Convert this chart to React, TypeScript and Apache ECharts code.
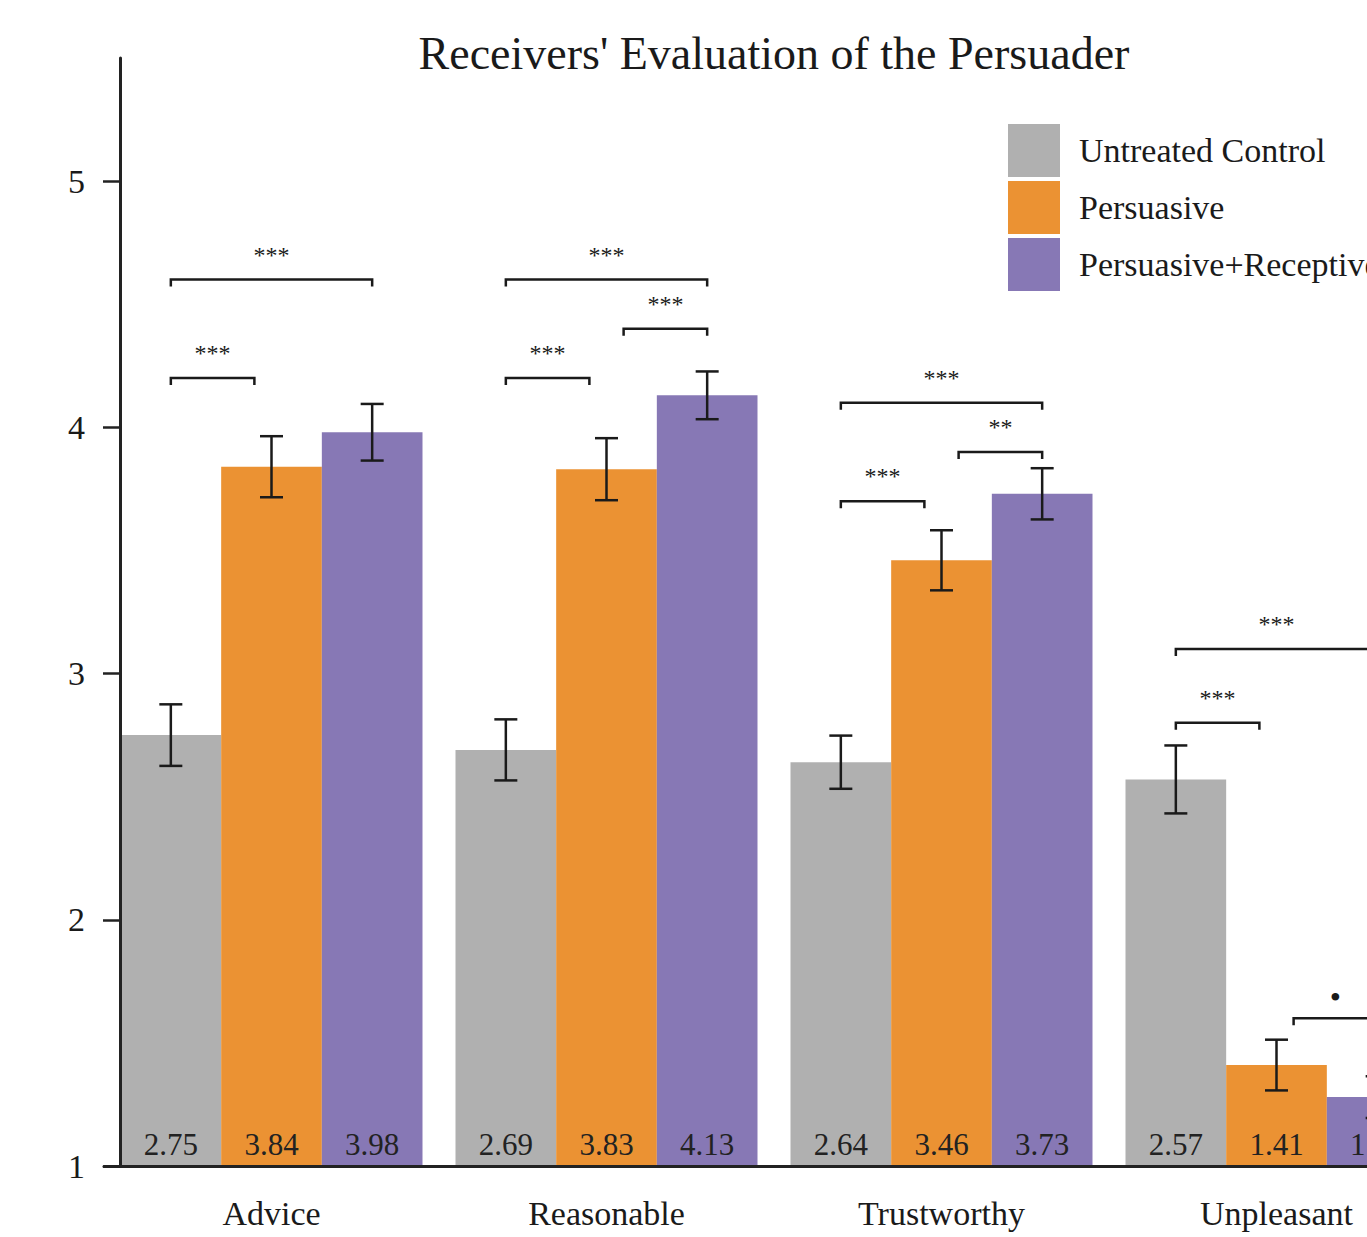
import React, { useEffect, useRef } from "react";
import * as echarts from "echarts";

// Category and group definitions
const categories = ["Advice", "Reasonable", "Trustworthy", "Unpleasant"];
const groupNames = ["Untreated Control", "Persuasive", "Persuasive+Receptive"];
const groupColors = ["#b0b0b0", "#eb9233", "#8778b5"];

// Mean ratings per group (one value per category)
const controlMeans = [2.75, 2.69, 2.64, 2.57];
const persuasiveMeans = [3.84, 3.83, 3.46, 1.41];
const receptiveMeans = [3.98, 4.13, 3.73, 1.28];

// Standard errors per group
const controlSE = [0.125, 0.124, 0.108, 0.138];
const persuasiveSE = [0.124, 0.126, 0.122, 0.103];
const receptiveSE = [0.115, 0.097, 0.104, 0.085];

// Significance brackets: category index, from group, to group, height (rating units), label
const bracketCategory = [0, 0, 1, 1, 1, 2, 2, 2, 3, 3, 3];
const bracketFrom = [0, 0, 0, 1, 0, 0, 1, 0, 0, 0, 1];
const bracketTo = [2, 1, 2, 2, 1, 2, 2, 1, 2, 1, 2];
const bracketLevel = [4.6, 4.2, 4.6, 4.4, 4.2, 4.1, 3.9, 3.7, 3.1, 2.8, 1.6];
const bracketLabel = ["***", "***", "***", "***", "***", "***", "**", "***", "***", "***", "•"];

const yTicks = [1, 2, 3, 4, 5];

const SERIF = "'Liberation Serif', 'Times New Roman', serif";
const INK = "#1a1a1a";
const CATEGORY_GAP = 0.0985;

function barCenterX(api: any, cat: number, group: number) {
  const center = api.coord([cat, 1])[0];
  const band = api.size([1, 0])[0];
  const barW = (band * (1 - CATEGORY_GAP)) / 3;
  return { x: center + (group - 1) * barW, barW };
}

export default function App() {
  const ref = useRef<HTMLDivElement>(null);

  useEffect(() => {
    if (!ref.current) return;
    const chart = echarts.init(ref.current, null, { renderer: "svg" });

    const means = [controlMeans, persuasiveMeans, receptiveMeans];
    const ses = [controlSE, persuasiveSE, receptiveSE];

    const barSeries = groupNames.map((name, g) => ({
      name,
      type: "bar",
      data: means[g],
      barGap: "0%",
      barCategoryGap: `${CATEGORY_GAP * 100}%`,
      itemStyle: { color: groupColors[g] },
      label: {
        show: true,
        position: "insideBottom",
        distance: 6,
        fontFamily: SERIF,
        fontSize: 31,
        color: "#222",
        formatter: (p: any) => Number(p.value).toFixed(2),
      },
      emphasis: { disabled: true },
    }));

    const errorData: number[][] = [];
    means.forEach((arr, g) =>
      arr.forEach((m, c) => errorData.push([c, g, m - ses[g][c], m + ses[g][c]]))
    );

    const errorSeries = {
      type: "custom",
      z: 5,
      silent: true,
      data: errorData,
      renderItem: (params: any, api: any) => {
        const cat = api.value(0);
        const g = api.value(1);
        const { x } = barCenterX(api, cat, g);
        const yLow = api.coord([cat, api.value(2)])[1];
        const yHigh = api.coord([cat, api.value(3)])[1];
        const cap = 11.5;
        const style = { stroke: INK, lineWidth: 2.5 };
        return {
          type: "group",
          children: [
            { type: "line", shape: { x1: x, y1: yLow, x2: x, y2: yHigh }, style },
            { type: "line", shape: { x1: x - cap, y1: yHigh, x2: x + cap, y2: yHigh }, style },
            { type: "line", shape: { x1: x - cap, y1: yLow, x2: x + cap, y2: yLow }, style },
          ],
        };
      },
    };

    const bracketData = bracketCategory.map((c, i) => [c, bracketLevel[i]]);

    const bracketSeries = {
      type: "custom",
      z: 6,
      silent: true,
      clip: false,
      data: bracketData,
      renderItem: (params: any, api: any) => {
        const i = params.dataIndex;
        const cat = bracketCategory[i];
        const from = bracketFrom[i];
        const to = bracketTo[i];
        const a = barCenterX(api, cat, from);
        const b = barCenterX(api, cat, to);
        let x1 = a.x;
        let x2 = b.x;
        // adjacent comparisons are shortened so neighbouring brackets don't touch
        if (to - from === 1) {
          if (from === 0) x2 -= 0.17 * a.barW;
          else x1 += 0.17 * a.barW;
        }
        const y = api.coord([cat, bracketLevel[i]])[1];
        const leg = 7;
        const style = { stroke: INK, lineWidth: 2.5, fill: "none" };
        const isDot = bracketLabel[i] === "•";
        return {
          type: "group",
          children: [
            {
              type: "polyline",
              shape: { points: [[x1, y + leg], [x1, y], [x2, y], [x2, y + leg]] },
              style,
            },
            {
              type: "text",
              x: (x1 + x2) / 2,
              y: isDot ? y - 21 : y - 25,
              style: {
                text: bracketLabel[i],
                fontFamily: SERIF,
                fontSize: isDot ? 32 : 24,
                fill: INK,
                align: "center",
                verticalAlign: "middle",
              },
            },
          ],
        };
      },
    };

    chart.setOption({
      animation: false,
      backgroundColor: "#ffffff",
      title: {
        text: "Receivers' Evaluation of the Persuader",
        left: "center",
        top: 30,
        padding: 0,
        textStyle: {
          fontFamily: SERIF,
          fontSize: 46,
          fontWeight: "normal",
          color: INK,
        },
      },
      legend: {
        data: groupNames,
        orient: "vertical",
        left: 1008,
        top: 124,
        padding: 0,
        icon: "rect",
        itemWidth: 52,
        itemHeight: 53,
        itemGap: 4,
        selectedMode: false,
        textStyle: {
          fontFamily: SERIF,
          fontSize: 34,
          color: INK,
          padding: [0, 0, 0, 14],
        },
      },
      grid: { left: 104, top: 58, width: 1340, height: 1108, containLabel: false },
      xAxis: {
        type: "category",
        data: categories,
        z: 8,
        axisLine: { show: true, lineStyle: { color: "#222", width: 3 } },
        axisTick: { show: false },
        axisLabel: { fontFamily: SERIF, fontSize: 34, color: INK, margin: 30 },
        splitLine: { show: false },
      },
      yAxis: {
        type: "value",
        min: 1,
        max: 5.5,
        interval: 1,
        offset: -16,
        z: 8,
        axisLine: { show: true, lineStyle: { color: "#222", width: 3 } },
        axisTick: {
          show: true,
          length: 17,
          lineStyle: { color: "#222", width: 2.5 },
          customValues: yTicks,
        },
        axisLabel: {
          fontFamily: SERIF,
          fontSize: 34,
          color: INK,
          margin: 35,
          customValues: yTicks,
        },
        splitLine: { show: false },
      },
      series: [...barSeries, errorSeries, bracketSeries],
    });

    return () => chart.dispose();
  }, []);

  return (
    <div
      style={{
        position: "fixed",
        left: 0,
        top: 0,
        width: "100vw",
        height: "100vh",
        overflow: "hidden",
        background: "#fff",
      }}
    >
      <div ref={ref} style={{ width: 1548, height: 1237 }} />
    </div>
  );
}
